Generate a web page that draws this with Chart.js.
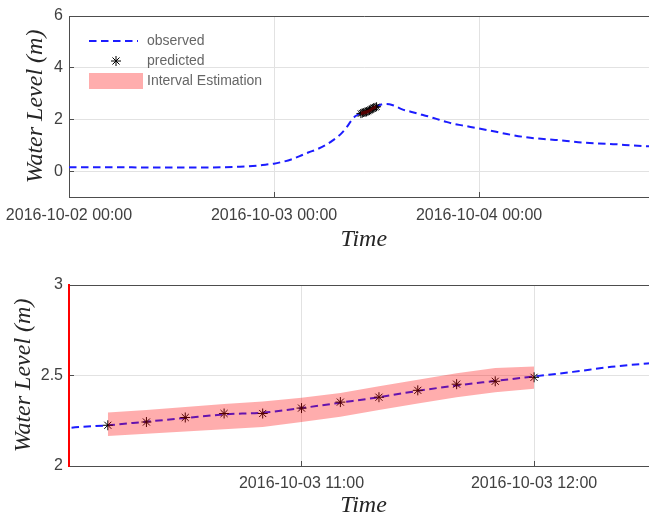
<!DOCTYPE html>
<html><head><meta charset="utf-8">
<script src="https://cdn.jsdelivr.net/npm/chart.js@4.4.1/dist/chart.umd.min.js"></script>
<style>
html,body{margin:0;padding:0;background:#fff;overflow:hidden;width:649px;height:523px;}
#top{position:absolute;left:0;top:0;}
#bot{position:absolute;left:0;top:260px;}
</style></head><body>
<canvas id="top" width="664" height="260"></canvas>
<canvas id="bot" width="664" height="263"></canvas>
<script>
// Time in hours since 2016-10-02 00:00
const obsTime = [0,2,4,6,8,10,12,14,16,18,20,22,23,24,25,26,27,28,29,30,30.5,31,31.5,32,32.5,33,33.5,
  34,34.167,34.333,34.5,34.667,34.833,35,35.167,35.333,35.5,35.667,35.833,36,36.167,36.333,36.5,36.667,37,37.5,
  38,39,40,41,42,43,44,45,46,47,48,50,52,54,56,58,60,62,64,66,68,69];
const obsLevel = [0.15,0.15,0.15,0.15,0.145,0.14,0.14,0.14,0.14,0.15,0.17,0.21,0.25,0.29,0.36,0.45,0.58,0.72,0.84,1.0,1.1,1.22,1.34,1.5,1.7,1.93,2.12,
  2.21,2.225,2.245,2.265,2.285,2.295,2.32,2.35,2.38,2.415,2.445,2.47,2.495,2.52,2.548,2.568,2.585,2.6,2.59,
  2.54,2.39,2.3,2.21,2.12,2.02,1.92,1.83,1.77,1.71,1.65,1.52,1.39,1.29,1.23,1.18,1.11,1.07,1.04,0.99,0.96,0.95];
const predTime = [34.167,34.333,34.5,34.667,34.833,35,35.167,35.333,35.5,35.667,35.833,36];
const predLevel = [2.225,2.243,2.268,2.29,2.29,2.32,2.353,2.38,2.418,2.452,2.468,2.49];
const upperBound = [2.295,2.31,2.326,2.342,2.357,2.377,2.404,2.44,2.476,2.513,2.542,2.55];
const lowerBound = [2.166,2.178,2.19,2.203,2.216,2.243,2.272,2.31,2.345,2.38,2.408,2.427];
const seriesNames = ['observed','predicted','Interval Estimation'];

const topTicksX = [0,24,48];
const topTickLabels = ['2016-10-02 00:00','2016-10-03 00:00','2016-10-04 00:00'];
const topTicksY = [0,2,4,6];
const botTicksX = [35,36];
const botTickLabels = ['2016-10-03 11:00','2016-10-03 12:00'];
const botTicksY = [2,2.5,3];

const BLUE = '#1c1cff';
const BAND = 'rgba(255,0,0,0.32)';
const DASH = [7.5,4.5];

function pts(xs, ys){ return xs.map((t,i)=>({x:t,y:ys[i]})); }
function makeCanvas(w,h,draw){const c=document.createElement('canvas');c.width=w;c.height=h;draw(c.getContext('2d'));return c;}
const LW=71, LH=20;
const symObs = makeCanvas(LW,LH,g=>{g.strokeStyle=BLUE;g.lineWidth=2;g.setLineDash(DASH);g.beginPath();g.moveTo(17,10);g.lineTo(66,10);g.stroke();});
const symPred = makeCanvas(LW,LH,g=>{g.strokeStyle='#000';g.lineWidth=1;g.beginPath();
  const cx=44,cy=10,r=5;for(let k=0;k<4;k++){const a=k*Math.PI/4;g.moveTo(cx-Math.cos(a)*r,cy-Math.sin(a)*r);g.lineTo(cx+Math.cos(a)*r,cy+Math.sin(a)*r);}g.stroke();});
const symBand = makeCanvas(LW,LH,g=>{g.fillStyle=BAND;g.fillRect(17,2,54,16);});
const legendSyms = [symObs,symPred,symBand];

const tickFont = {family:"'Liberation Sans', Arial, sans-serif", size:16};
const titleFont = {family:"'Liberation Serif', 'Times New Roman', serif", style:'italic', size:24, lineHeight:1.2};

function datasets(starR){
  return [
    {label:'upper', data:pts(predTime,upperBound), borderWidth:0, pointRadius:0, fill:'+1', backgroundColor:BAND},
    {label:'lower', data:pts(predTime,lowerBound), borderWidth:0, pointRadius:0, fill:false},
    {label:seriesNames[1], data:pts(predTime,predLevel), showLine:false, pointStyle:'star', pointRadius:starR, borderColor:'#000', pointBorderWidth:1},
    {label:seriesNames[0], data:pts(obsTime,obsLevel), borderColor:BLUE, borderWidth:2, borderDash:DASH, pointRadius:0, cubicInterpolationMode:'monotone', fill:false}
  ];
}

function makeChart(id, cfg){
  return new Chart(document.getElementById(id), {
    type:'line',
    data:{datasets:datasets(cfg.starR)},
    options:{
      responsive:false, animation:false, devicePixelRatio:1, events:[],
      layout:{padding:{top:cfg.padTop,left:0,right:0,bottom:0}},
      plugins:{
        tooltip:{enabled:false},
        legend: cfg.legend ? {
          display:true, position:'chartArea', align:'start',
          title:{display:true, text:'', font:{size:10,lineHeight:1}, padding:{top:18,bottom:0}},
          labels:{usePointStyle:true, pointStyleWidth:65, padding:6, color:'#1a1a1a',
            font:{family:"'Liberation Sans', Arial, sans-serif", size:14},
            generateLabels:()=>seriesNames.map((n,i)=>({text:n, pointStyle:legendSyms[i], fillStyle:'rgba(0,0,0,0)', strokeStyle:'rgba(0,0,0,0)', lineWidth:0, hidden:false}))}
        } : {display:false}
      },
      scales:{
        x:{type:'linear', min:cfg.xMin, max:cfg.xMax,
          afterBuildTicks:s=>{s.ticks=cfg.ticksX.map(v=>({value:v}));},
          afterFit:s=>{s.height=cfg.xH; s.paddingLeft=0; s.paddingRight=0;},
          ticks:{callback:v=>cfg.labelsX[cfg.ticksX.indexOf(v)], maxRotation:0, autoSkip:false, padding:cfg.xPad+5, color:'#404040', font:tickFont},
          grid:{color:'#e2e2e2', drawTicks:true, tickLength:-5, tickColor:'#4d4d4d', tickWidth:1},
          border:{color:'#4d4d4d', width:1},
          title:{display:true, text:'Time', color:'#262626', font:titleFont, padding:{top:0,bottom:cfg.tPad}}
        },
        y:{type:'linear', min:cfg.yMin, max:cfg.yMax,
          afterBuildTicks:s=>{s.ticks=cfg.ticksY.map(v=>({value:v}));},
          afterFit:s=>{s.width=69; s.paddingTop=0; s.paddingBottom=0;},
          ticks:{callback:v=>String(v), padding:11, color:'#404040', font:tickFont},
          grid:{drawTicks:true, tickLength:-5, tickColor:'#4d4d4d', tickWidth:1, color:c=>(c.tick && c.tick.value===cfg.yMax)?'#4d4d4d':'#e2e2e2'},
          border:{color:cfg.yBorder, width:cfg.yBorderW},
          title:{display:true, text:'Water Level (m)', color:'#262626', font:titleFont, padding:{top:cfg.yTitlePad,bottom:0}}
        }
      }
    }
  });
}

makeChart('top',{starR:4.5, padTop:16, legend:true, xMin:0, xMax:69, ticksX:topTicksX, labelsX:topTickLabels,
  xH:63, xPad:9, tPad:5.6, yMin:-1, yMax:6, ticksY:topTicksY, yBorder:'#4d4d4d', yBorderW:1, yTitlePad:21.5});
makeChart('bot',{starR:5, padTop:25, legend:false, xMin:34, xMax:36.533, ticksX:botTicksX, labelsX:botTickLabels,
  xH:57, xPad:8, tPad:2.6, yMin:2, yMax:3, ticksY:botTicksY, yBorder:'#ff0000', yBorderW:2, yTitlePad:9.5});
</script>
</body></html>
